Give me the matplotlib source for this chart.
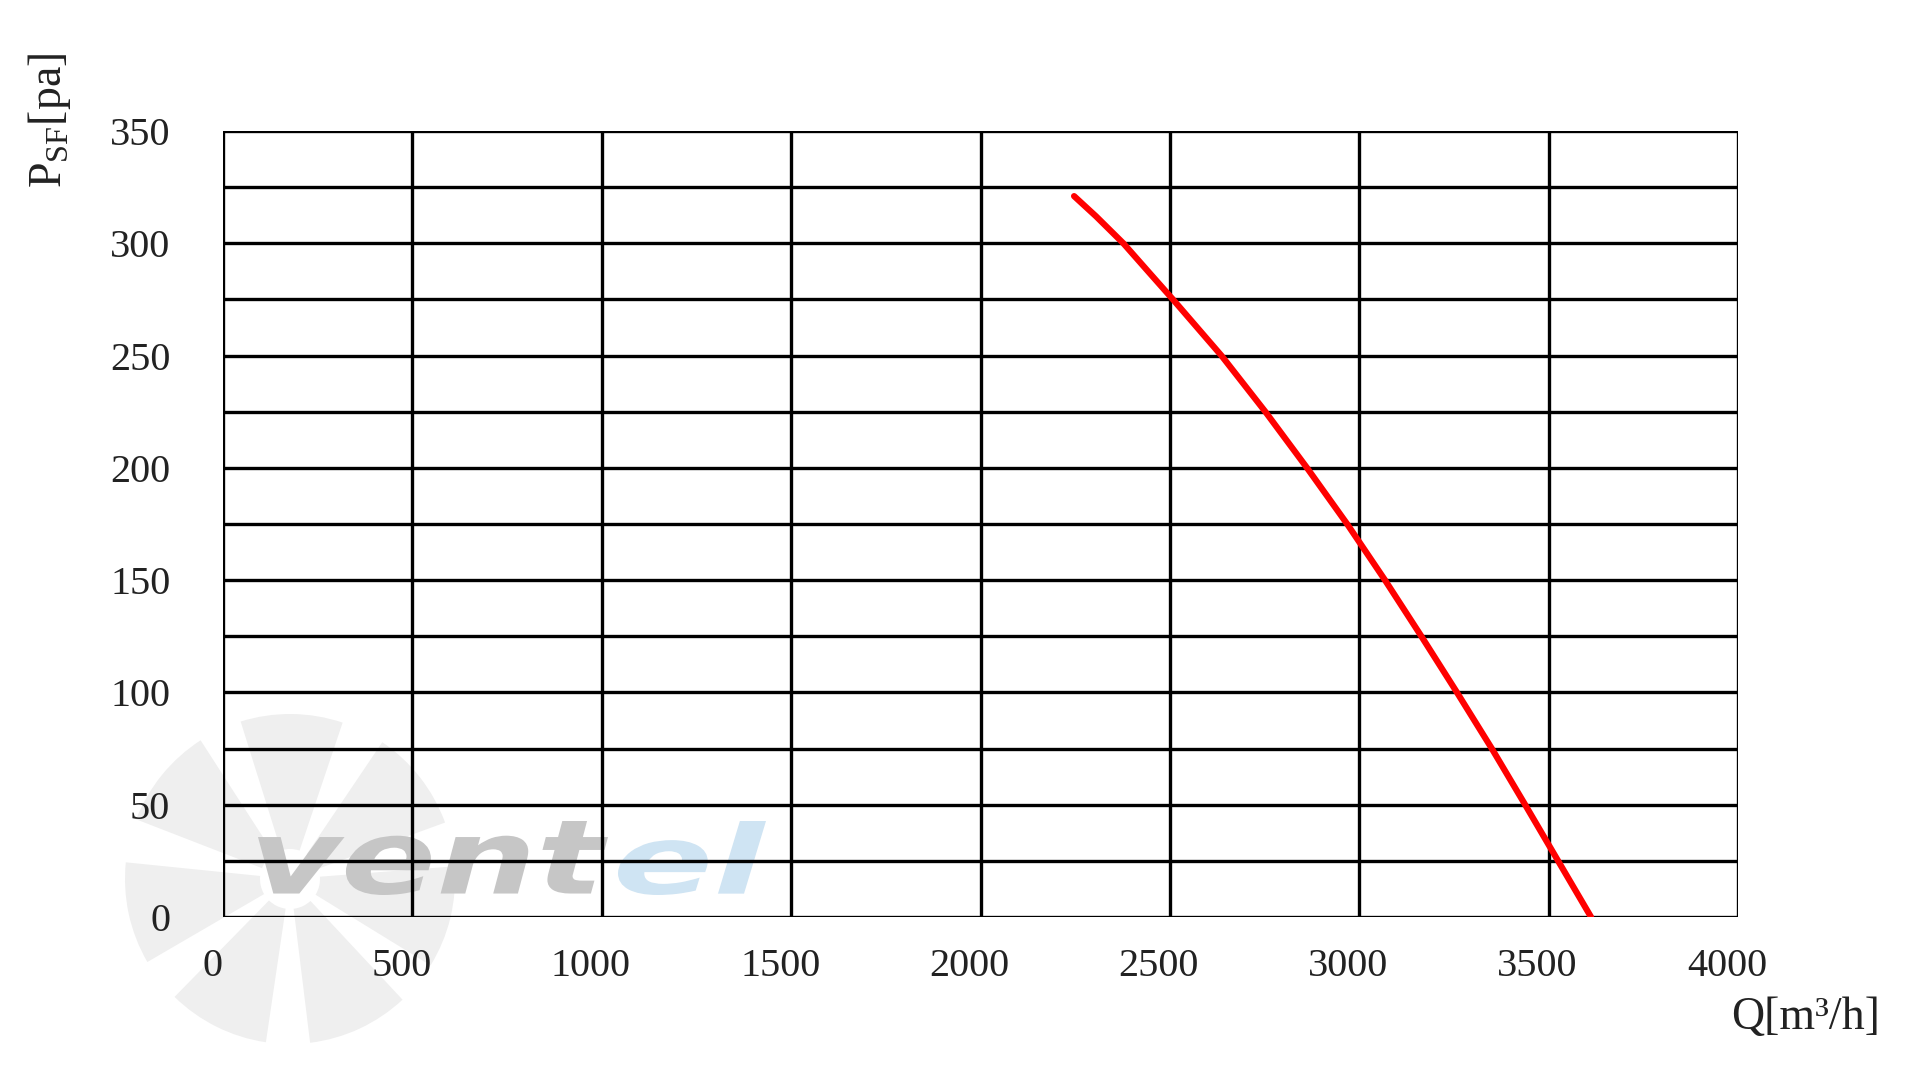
import numpy as np
import matplotlib
matplotlib.use('Agg')
from matplotlib import pyplot as plt
from matplotlib.patches import Wedge, PathPatch
from matplotlib.textpath import TextPath
from matplotlib.font_manager import FontProperties
from matplotlib.transforms import IdentityTransform, ScaledTranslation, Affine2D

# fan curve: static pressure vs air flow
flow = [2247, 2305, 2377, 2445, 2508, 2636, 2752, 2862, 2968, 3068, 3164, 3258, 3350, 3438, 3525, 3612]
pressure = [321, 312, 300, 287, 275, 250, 225, 200, 175, 150, 125, 100, 75, 50, 25, 0]

x_ticks = [0, 500, 1000, 1500, 2000, 2500, 3000, 3500, 4000]
y_ticks = [0, 50, 100, 150, 200, 250, 300, 350]
y_grid = np.arange(0, 351, 25)

plt.rcParams['font.family'] = ['Liberation Serif', 'DejaVu Serif']
plt.rcParams['mathtext.fontset'] = 'custom'
plt.rcParams['mathtext.rm'] = 'Liberation Serif'

fig = plt.figure(figsize=(19.23, 10.79), dpi=100)
ax = fig.add_axes([0.116, 0.1501, 0.7878, 0.7285])
ax.patch.set_alpha(0)

# faint logo watermark (fan blades + name) behind the grid, in pixels
for a in range(7):
    t0 = 20 + a * 51.4
    fig.patches.append(Wedge((290, 200), 165, t0, t0 + 36, width=135,
                             transform=IdentityTransform(), color='#efefef',
                             zorder=-2, lw=0))


def logo_word(word, x0, x1, y0, y1, color):
    tp = TextPath((0, 0), word, size=100,
                  prop=FontProperties(family='DejaVu Sans', weight='bold', style='italic'))
    ext = tp.get_extents()
    tr = (Affine2D().translate(-ext.x0, -ext.y0)
          .scale((x1 - x0) / ext.width, (y1 - y0) / ext.height)
          .translate(x0, y0))
    fig.patches.append(PathPatch(tr.transform_path(tp), transform=IdentityTransform(),
                                 color=color, lw=0, zorder=-1))


logo_word('vent', 258, 608, 184, 258, '#c6c6c6')
logo_word('el', 618, 766, 184, 258, '#cfe4f3')

for gx in x_ticks:
    ax.axvline(gx, color='black', lw=2.4, zorder=1)
for gy in y_grid:
    ax.axhline(gy, color='black', lw=2.4, zorder=1)

ax.plot(flow, pressure, color='#ff0000', lw=4.5, solid_capstyle='round',
        solid_joinstyle='round', zorder=3)

ax.set_xlim(0, 4000)
ax.set_ylim(0, 350)
ax.set_xticks(x_ticks)
ax.set_yticks(y_ticks)
ax.tick_params(length=0, labelsize=29, colors='#222222')
ax.tick_params(axis='x', pad=22)
ax.tick_params(axis='y', pad=38)
shift = ScaledTranslation(-0.11, 0, fig.dpi_scale_trans)
for lab in ax.get_xticklabels():
    lab.set_transform(lab.get_transform() + shift)
for s in ax.spines.values():
    s.set_visible(False)

fig.text(0.0255, 0.888, r'P$_{\mathrm{SF}}$[pa]', rotation=90, fontsize=33,
         ha='center', va='center', color='#222222')
fig.text(0.9388, 0.0565, 'Q[m³/h]', fontsize=33, ha='center', va='center',
         color='#222222')

plt.savefig('out.png', dpi=100)
